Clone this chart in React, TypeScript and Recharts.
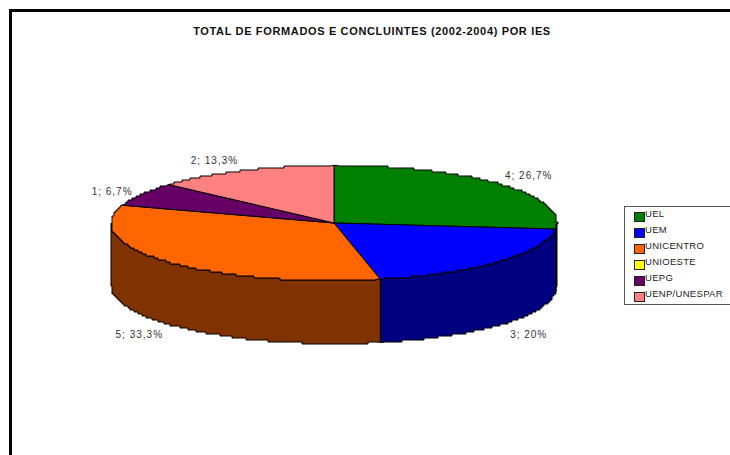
import React from 'react';
import { PieChart, Pie, Legend } from 'recharts';

const categories = ['UEL', 'UEM', 'UNICENTRO', 'UNIOESTE', 'UEPG', 'UENP/UNESPAR'];
const values = [4, 3, 5, 0, 1, 2];
const topColors = ['#008000', '#0000ff', '#ff6600', '#ffff00', '#660066', '#ff8080'];
const wallColors = ['#004000', '#000080', '#803300', '#808000', '#330033', '#804040'];

const rows = categories.map((name, i) => ({ name, value: values[i], fill: topColors[i] }));

const CX = 334;
const CY = 223;
const RADIUS = 223;
const SQUASH = 57.6 / 223;
const DEPTH = 63;
const STEP = 2;

// clockwise degrees from 12 o'clock -> point on the flattened rim
function rimPoint(cx: number, cy: number, r: number, deg: number) {
  const rad = (deg * Math.PI) / 180;
  return { x: cx + r * Math.sin(rad), y: cy - r * SQUASH * Math.cos(rad) };
}

// rim as a staircase, the way the old office renderer rasterised it
function stairs(cx: number, cy: number, r: number, from: number, to: number) {
  const snap = (v: number) => Math.round(v / STEP) * STEP;
  const n = Math.max(2, Math.ceil(Math.abs(to - from)));
  const start = rimPoint(cx, cy, r, from);
  const end = rimPoint(cx, cy, r, to);
  let d = `L${start.x} ${start.y}`;
  for (let i = 1; i < n; i++) {
    const p = rimPoint(cx, cy, r, from + ((to - from) * i) / n);
    d += ` H${snap(p.x)} V${snap(p.y)}`;
  }
  return `${d} L${end.x} ${end.y}`;
}

function TopSlice(props: any) {
  const { cx, cy, outerRadius, startAngle, endAngle, fill } = props;
  if (startAngle === endAngle) return null;
  const from = 90 - startAngle;
  const to = 90 - endAngle;
  return (
    <path
      d={`M${cx} ${cy} ${stairs(cx, cy, outerRadius, from, to)} Z`}
      fill={fill}
      stroke="#000"
      strokeWidth={1}
    />
  );
}

// side wall, only the part of a slice facing the viewer (90..270 clockwise)
function WallSlice(props: any) {
  const { cx, cy, outerRadius, startAngle, endAngle, name } = props;
  const from = Math.max(90 - startAngle, 90);
  const to = Math.min(90 - endAngle, 270);
  if (to <= from) return null;
  const rim = stairs(cx, cy + DEPTH, outerRadius, to, from);
  const a = rimPoint(cx, cy, outerRadius, from);
  const b = rimPoint(cx, cy, outerRadius, to);
  return (
    <path
      d={`M${a.x} ${a.y} ${stairs(cx, cy, outerRadius, from, to)} L${b.x} ${b.y + DEPTH} ${rim} Z`}
      fill={wallColors[categories.indexOf(name)]}
      stroke="#000"
      strokeWidth={1}
    />
  );
}

function SliceLabel(props: any) {
  const { cx, cy, midAngle, value, percent, name } = props;
  if (!value) return null;
  const rad = ((90 - midAngle) * Math.PI) / 180;
  const front = Math.cos(rad) < 0;
  // the two small slices sit a bit off the label ellipse
  const nudgeX = name === 'UEPG' ? 5 : name === 'UENP/UNESPAR' ? -13 : 0;
  const nudgeY = name === 'UEPG' ? 4 : name === 'UENP/UNESPAR' ? 3 : 0;
  const x = cx + 262 * Math.sin(rad) + nudgeX;
  const y = cy - 72 * Math.cos(rad) + (front ? DEPTH : 0) + nudgeY;
  const pct = (percent * 100).toFixed(1).replace('.0', '').replace('.', ',');
  return (
    <text
      x={x}
      y={y}
      dy={4}
      textAnchor="middle"
      fontFamily="Liberation Sans"
      fontSize={10}
      letterSpacing={1}
      fill="#333"
    >
      {`${value}; ${pct}%`}
    </text>
  );
}

function LegendBox() {
  return (
    <div
      style={{
        boxSizing: 'border-box',
        width: 120,
        height: 99,
        border: '1px solid #555',
        background: '#fff',
        paddingLeft: 9,
        fontFamily: 'Liberation Sans',
        fontSize: 9.5,
        letterSpacing: 0.3,
        lineHeight: '16px',
        color: '#222',
      }}
    >
      {categories.map((name, i) => (
        <div key={name} style={{ display: 'flex', alignItems: 'center', height: 16 }}>
          <span
            style={{
              boxSizing: 'border-box',
              width: 11,
              height: 10,
              marginTop: 3,
              border: '1px solid #222',
              background: topColors[i],
            }}
          />
          <span style={{ marginTop: -3 }}>{name}</span>
        </div>
      ))}
    </div>
  );
}

export default function App() {
  return (
    <div style={{ position: 'absolute', left: 0, top: 0, width: 730, height: 455, overflow: 'hidden', background: '#fff' }}>
      <div style={{ position: 'absolute', left: 9, top: 9, width: 800, height: 600, border: '3px solid #000' }} />
      <div
        style={{
          position: 'absolute',
          left: 12,
          width: 720,
          top: 24,
          textAlign: 'center',
          fontFamily: 'Liberation Sans',
          fontWeight: 'bold',
          fontSize: 11,
          letterSpacing: 0.65,
          lineHeight: '14px',
          color: '#111',
        }}
      >
        TOTAL DE FORMADOS E CONCLUINTES (2002-2004) POR IES
      </div>
      <div style={{ position: 'absolute', left: 0, top: 0 }}>
        <PieChart width={730} height={455} margin={{ top: 0, right: 0, bottom: 0, left: 0 }}>
          <Pie
            data={rows}
            dataKey="value"
            nameKey="name"
            cx={CX}
            cy={CY}
            outerRadius={RADIUS}
            startAngle={90}
            endAngle={-270}
            shape={WallSlice}
            isAnimationActive={false}
          />
          <Pie
            data={rows}
            dataKey="value"
            nameKey="name"
            cx={CX}
            cy={CY}
            outerRadius={RADIUS}
            startAngle={90}
            endAngle={-270}
            shape={TopSlice}
            label={SliceLabel}
            labelLine={false}
            isAnimationActive={false}
          />
          <Legend
            layout="vertical"
            content={LegendBox}
            wrapperStyle={{ position: 'absolute', left: 624, top: 206, width: 120, bottom: 'auto', right: 'auto' }}
          />
        </PieChart>
      </div>
    </div>
  );
}
